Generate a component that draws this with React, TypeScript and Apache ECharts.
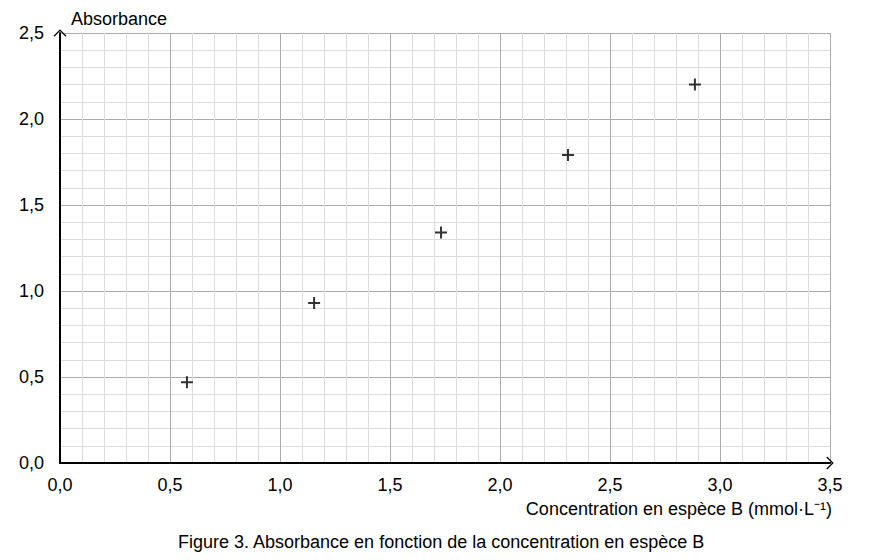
import { useEffect, useRef } from 'react';
import * as echarts from 'echarts';

// concentration (mmol/L) and absorbance
const concentrations = [0.577, 1.155, 1.732, 2.309, 2.886];
const absorbances = [0.47, 0.93, 1.34, 1.79, 2.2];

const yAxisTitle = 'Absorbance';
const xAxisTitle = 'Concentration en espèce B (mmol·L⁻¹)';
const caption = 'Figure 3. Absorbance en fonction de la concentration en espèce B';

const FONT = 'Arial, "Liberation Sans", Helvetica, sans-serif';
const CROSS = 'path://M5,0 H7 V5 H12 V7 H7 V12 H5 V7 H0 V5 H5 Z';
const CHEVRON = 'path://M0,0 L10,10 L8.6,11.4 L0,2.8 L-8.6,11.4 L-10,10 Z';

const fmt = (v: number) => v.toFixed(1).replace('.', ',');

export default function App() {
  const chartRef = useRef<HTMLDivElement>(null);

  useEffect(() => {
    if (!chartRef.current) return;
    const chart = echarts.init(chartRef.current, undefined, { renderer: 'svg' });

    const axisCommon = {
      type: 'value' as const,
      min: 0,
      interval: 0.5,
      axisLine: {
        show: true,
        onZero: false,
        symbol: ['none', CHEVRON],
        symbolSize: [13, 11],
        symbolOffset: [0, 0],
        lineStyle: { color: '#000', width: 2 },
      },
      axisTick: { show: false },
      minorTick: { show: false, splitNumber: 5 },
      splitLine: { show: true, lineStyle: { color: '#ababab', width: 1 } },
      minorSplitLine: { show: true, lineStyle: { color: '#dcdcdc', width: 1 } },
      axisLabel: {
        formatter: fmt,
        color: '#000',
        fontSize: 18,
        fontFamily: FONT,
      },
    };

    const option = {
      animation: false,
      backgroundColor: '#fff',
      grid: { left: 60, right: 40, top: 33, bottom: 97, containLabel: false },
      xAxis: {
        ...axisCommon,
        max: 3.5,
        axisLabel: { ...axisCommon.axisLabel, margin: 13 },
      },
      yAxis: {
        ...axisCommon,
        max: 2.5,
        axisLabel: { ...axisCommon.axisLabel, margin: 16 },
      },
      graphic: [
        {
          type: 'text',
          left: 71,
          top: 10,
          style: { text: yAxisTitle, fill: '#000', font: `18px ${FONT}` },
        },
        {
          type: 'text',
          right: 38,
          top: 500,
          style: { text: xAxisTitle, fill: '#000', font: `18px ${FONT}` },
        },
        {
          type: 'text',
          left: 178,
          top: 533,
          style: { text: caption, fill: '#000', font: `18px ${FONT}` },
        },
      ],
      series: [
        {
          type: 'scatter',
          data: concentrations.map((c, i) => [c, absorbances[i]]),
          symbol: CROSS,
          symbolSize: 12,
          itemStyle: { color: '#000' },
          z: 10,
        },
      ],
    };

    chart.setOption(option);
    return () => {
      chart.dispose();
    };
  }, []);

  return (
    <div
      ref={chartRef}
      style={{ position: 'fixed', left: 0, top: 0, width: 870, height: 560 }}
    />
  );
}
